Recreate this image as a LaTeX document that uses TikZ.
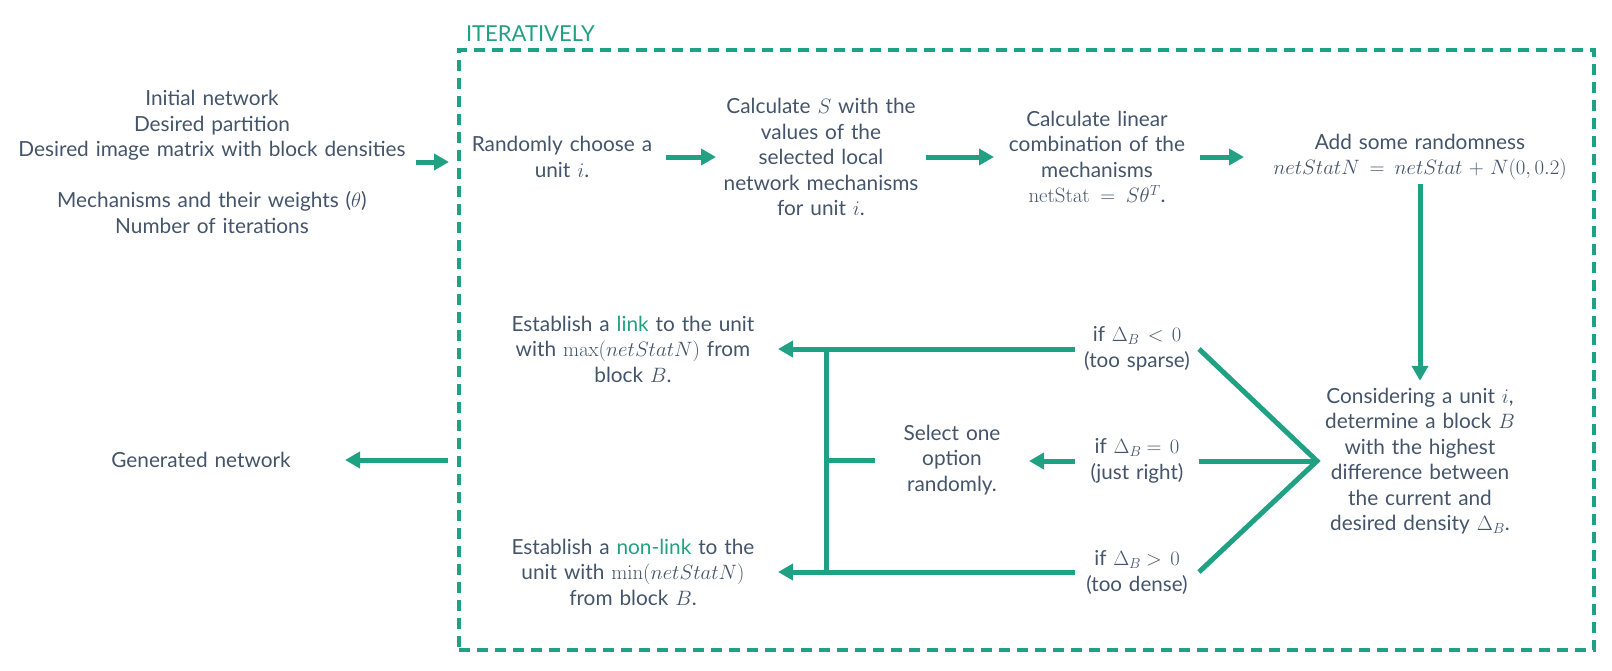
\documentclass[tikz,border=0pt]{standalone}
\usepackage{fix-cm}
\usepackage[no-math]{fontspec}
\setmainfont{Lato}
\usetikzlibrary{arrows.meta}
\definecolor{tx}{HTML}{44546A}
\definecolor{gr}{HTML}{21A183}
\begin{document}
\begin{tikzpicture}[x=1pt,y=-1pt,
  every node/.style={inner sep=0pt, outer sep=0pt, text=tx, align=center, font=\fontsize{20.8}{25.5}\selectfont},
  small/.style={font=\fontsize{20.6}{26}\selectfont},
  arr/.style={draw=gr, line width=5pt, -{Triangle[length=15pt,width=16pt]}},
  ln/.style={draw=gr, line width=5pt},
  frame/.style={draw=gr, line width=4pt, dash pattern=on 11pt off 7pt, minimum width=1135pt, minimum height=600pt}
]
\useasboundingbox (0,0) rectangle (1612,670);

% dashed frame
\node[frame] (iter) at (1026.5,350) {};
\node[anchor=base west, text=gr, font=\fontsize{22}{26}\selectfont] (itl) at ([xshift=7pt,yshift=9pt]iter.north west) {ITERATIVELY};

% outside
\node[text width=408pt] (in) at (212,162) {Initial network\\Desired partition\\Desired image matrix with block densities\\[25.5pt]Mechanisms and their weights ($\theta$)\\Number of iterations};
\node[text width=288pt] (gen) at (201,460) {Generated network};

% top row
\node[text width=208pt] (rand) at (562,157) {Randomly choose a\\unit $i$.};
\node[text width=210pt] (calcS) at (821,157) {Calculate $S$ with the\\values of the\\selected local\\network mechanisms\\for unit $i$.};
\node[text width=206pt] (calcL) at (1097,157) {Calculate linear\\combination of the\\mechanisms\\$\mathrm{netStat}=S\theta^T$.};
\node[text width=352pt] (add) at (1420,157) {Add some randomness\\$netStatN = netStat + N(0,0.2)$};

% right
\node[text width=206pt] (cons) at (1420,461) {Considering a unit $i$,\\determine a block $B$\\with the highest\\difference between\\the current and\\desired density $\Delta_B$.};

% conditions
\node[small, text width=124pt] (c1) at (1137,349) {if $\Delta_B<0$\\(too sparse)};
\node[small, text width=124pt] (c2) at (1137,461) {if $\Delta_B\!=0$\\(just right)};
\node[small, text width=124pt] (c3) at (1137,572) {if $\Delta_B\!>0$\\(too dense)};

% left results
\node[text width=154pt] (sel) at (952,460) {Select one\\option\\randomly.};
\node[text width=290pt] (link) at (633,349) {Establish a \textcolor{gr}{link} to the unit\\with $\max(netStatN)$ from\\block $B$.};
\node[text width=290pt] (nonlink) at (633,572) {Establish a \textcolor{gr}{non-link} to the\\unit with $\min(netStatN)$\\from block $B$.};

\coordinate (bx) at (826,350);

% connectors
\draw[arr, shorten >=10pt] (in.east) -- (in.east -| iter.west);
\draw[arr, shorten <=11pt] (gen.east -| iter.west) -- (gen.east);
\draw[arr] (rand.east) -- (calcS.west);
\draw[arr] (calcS.east) -- (calcL.west);
\draw[arr] (calcL.east) -- (add.west);
\draw[arr, shorten <=4pt, shorten >=7pt] (add.south) -- (cons.north);

\draw[ln, line join=miter] (c1.east) -- (cons.west) -- (c3.east);
\draw[ln] (c2.east) -- (cons.west);

\draw[arr] (c1.west) -- (c1.west -| link.east);
\draw[arr] (c3.west) -- (c3.west -| nonlink.east);
\draw[arr] (c2.west) -- (c2.west -| sel.east);
\draw[ln] (bx |- c1.west) -- (bx |- c3.west);
\draw[ln] (bx |- sel.west) -- (sel.west);
\end{tikzpicture}
\end{document}
